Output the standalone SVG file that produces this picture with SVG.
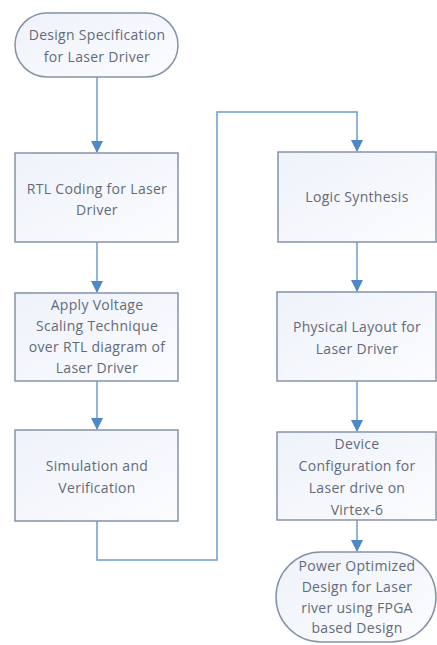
<svg xmlns="http://www.w3.org/2000/svg" width="437" height="645" viewBox="0 0 437 645">
<style>
.box{fill:url(#g);stroke:#8593a8;stroke-width:1.5}
.t{font-family:"Open Sans","Liberation Sans",sans-serif;font-size:14px;letter-spacing:0.3px;fill:#636b7a;text-anchor:middle}
.c{fill:none;stroke:#6f9ccf;stroke-width:1.5}
</style>
<defs>
<linearGradient id="g" x1="0" y1="0" x2="1" y2="1">
<stop offset="0" stop-color="#eef2fa"/>
<stop offset="1" stop-color="#fbfcfe"/>
</linearGradient>
<marker id="a" markerWidth="12" markerHeight="12" refX="11" refY="6" orient="auto" markerUnits="userSpaceOnUse">
<path d="M0,0 L12,6 L0,12 Z" fill="#4f88c6"/>
</marker>
</defs>
<rect width="437" height="645" fill="#ffffff"/>
<g id="connectors">
<path class="c" d="M97,77 V152" marker-end="url(#a)"/>
<path class="c" d="M97,242 V292" marker-end="url(#a)"/>
<path class="c" d="M97,381 V429" marker-end="url(#a)"/>
<path class="c" d="M97,521 V560 H217 V112 H357 V151" marker-end="url(#a)"/>
<path class="c" d="M357,242 V291" marker-end="url(#a)"/>
<path class="c" d="M357,381 V431" marker-end="url(#a)"/>
<path class="c" d="M357,520 V551" marker-end="url(#a)"/>
</g>
<g id="start">
<rect class="box" x="15" y="13" width="163" height="64" rx="32" ry="32"/>
<text class="t" x="97" y="40">Design Specification</text>
<text class="t" x="97" y="62">for Laser Driver</text>
</g>
<g id="rtl">
<rect class="box" x="15" y="153" width="163" height="89"/>
<text class="t" x="97" y="194">RTL Coding for Laser</text>
<text class="t" x="97" y="215">Driver</text>
</g>
<g id="voltage">
<rect class="box" x="15" y="293" width="163" height="88"/>
<text class="t" x="97" y="310">Apply Voltage</text>
<text class="t" x="97" y="331">Scaling Technique</text>
<text class="t" x="97" y="352">over RTL diagram of</text>
<text class="t" x="97" y="373">Laser Driver</text>
</g>
<g id="simulation">
<rect class="box" x="15" y="430" width="163" height="91"/>
<text class="t" x="97" y="471">Simulation and</text>
<text class="t" x="97" y="493">Verification</text>
</g>
<g id="synthesis">
<rect class="box" x="278" y="152" width="158" height="90"/>
<text class="t" x="357" y="202">Logic Synthesis</text>
</g>
<g id="layout">
<rect class="box" x="277" y="292" width="159" height="89"/>
<text class="t" x="357" y="332">Physical Layout for</text>
<text class="t" x="357" y="354">Laser Driver</text>
</g>
<g id="device">
<rect class="box" x="277" y="432" width="159" height="88"/>
<text class="t" x="357" y="449">Device</text>
<text class="t" x="357" y="471">Configuration for</text>
<text class="t" x="357" y="493">Laser drive on</text>
<text class="t" x="357" y="515">Virtex-6</text>
</g>
<g id="end">
<rect class="box" x="276" y="552" width="160" height="90" rx="45" ry="45"/>
<text class="t" x="357" y="571">Power Optimized</text>
<text class="t" x="357" y="592">Design for Laser</text>
<text class="t" x="357" y="613">river using FPGA</text>
<text class="t" x="357" y="633">based Design</text>
</g>
</svg>
